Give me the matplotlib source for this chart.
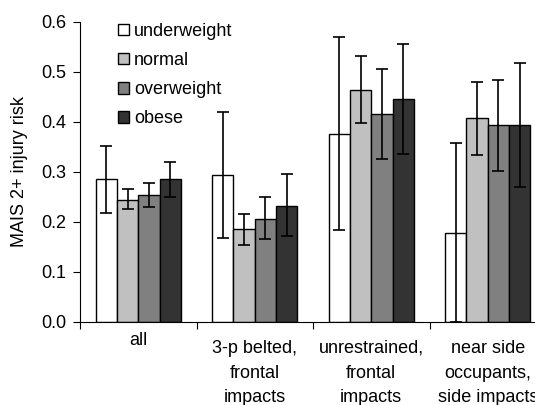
import matplotlib.pyplot as plt
import matplotlib.transforms as mtransforms
import numpy as np

plt.rcParams["font.family"] = ["Liberation Sans", "DejaVu Sans"]

categories = ["all", "3-p belted,\nfrontal\nimpacts", "unrestrained,\nfrontal\nimpacts",
              "near side\noccupants,\nside impacts"]
groups = ["underweight", "normal", "overweight", "obese"]
colors = ["#ffffff", "#c0c0c0", "#808080", "#333333"]

# risk and 95% interval bounds per group, one entry per category
risk = {
    "underweight": [0.285, 0.294, 0.375, 0.177],
    "normal": [0.244, 0.186, 0.464, 0.407],
    "overweight": [0.253, 0.206, 0.415, 0.394],
    "obese": [0.285, 0.232, 0.445, 0.394],
}
lower = {
    "underweight": [0.218, 0.168, 0.184, 0.0],
    "normal": [0.226, 0.154, 0.398, 0.334],
    "overweight": [0.230, 0.166, 0.325, 0.302],
    "obese": [0.250, 0.172, 0.336, 0.270],
}
upper = {
    "underweight": [0.352, 0.420, 0.569, 0.357],
    "normal": [0.265, 0.215, 0.531, 0.479],
    "overweight": [0.278, 0.250, 0.505, 0.484],
    "obese": [0.320, 0.296, 0.555, 0.517],
}

FS = 13

fig = plt.figure(figsize=(5.35, 4.05), dpi=100)
ax = fig.add_axes([80 / 535, 83.3 / 405, 466 / 535, 299.7 / 405])

x = np.arange(len(categories))
width = 0.183
for i, g in enumerate(groups):
    pos = x + (i - 1.5) * width
    vals = np.array(risk[g])
    err = [vals - np.array(lower[g]), np.array(upper[g]) - vals]
    ax.bar(pos, vals, width, color=colors[i], edgecolor="black", linewidth=1.0,
           label=g, zorder=2)
    ax.errorbar(pos, vals, yerr=err, fmt="none", ecolor="black", elinewidth=1.2,
                capsize=4, capthick=1.2, zorder=3)

ax.set_xlim(-0.5, len(categories) - 0.5)
ax.set_ylim(0, 0.6)
ax.set_yticks(np.arange(0, 0.61, 0.1))
ax.set_yticklabels([f"{v:.1f}" for v in np.arange(0, 0.61, 0.1)], fontsize=FS)
ax.set_ylabel("MAIS 2+ injury risk", fontsize=FS, labelpad=9)

# category labels drawn as text so the single-line one can sit higher
ax.set_xticks([])
trans = mtransforms.blended_transform_factory(ax.transData, ax.transAxes)
for xi, cat in zip(x, categories):
    off = -10 if "\n" not in cat else -18
    ax.text(xi, 0, cat, ha="center", va="top", fontsize=FS, linespacing=1.6,
            transform=trans + mtransforms.ScaledTranslation(0, off / 100, fig.dpi_scale_trans))
ax.set_xticks(np.arange(-0.5, len(categories)), minor=True)
ax.tick_params(axis="x", which="minor", length=5, width=0.8, direction="out")
ax.tick_params(axis="y", length=5, width=0.8, direction="out", pad=5)

for side in ["top", "right"]:
    ax.spines[side].set_visible(False)
ax.spines["left"].set_linewidth(0.8)
ax.spines["bottom"].set_linewidth(0.8)

ax.legend(loc="upper left", bbox_to_anchor=(0.066, 1.022), frameon=False, fontsize=FS,
          handlelength=0.6, handleheight=0.6, handletextpad=0.3, labelspacing=0.68,
          borderaxespad=0)

fig.savefig("out.png", dpi=100)
